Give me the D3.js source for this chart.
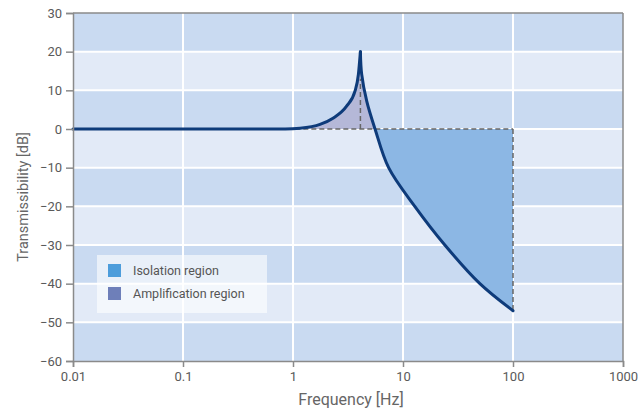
<!DOCTYPE html>
<html>
<head>
<meta charset="utf-8">
<script src="https://cdn.jsdelivr.net/npm/d3@7"></script>
<style>
  body { margin: 0; background: #fff; }
  svg text { font-family: Roboto, "Open Sans", sans-serif; }
</style>
</head>
<body>
<div id="chart"></div>
<script>
// Data
const freqs = [0.01, 0.1, 0.5, 0.85, 1.16, 1.76, 2.31, 3.07, 3.66, 3.93, 4.1, 4.21, 4.68, 5.57, 7.4, 12.8, 24, 50, 100];
const transDb = [0, 0, 0, 0, 0.2, 1.2, 2.8, 5.9, 9.8, 14.1, 20, 14.2, 7.2, 0, -10, -20, -30, -40, -47];
const xTicks = [0.01, 0.1, 1, 10, 100, 1000];
const yTicks = [30, 20, 10, 0, -10, -20, -30, -40, -50, -60];
const resonance = [4.1, 13];
const legendItems = ['Isolation region', 'Amplification region'];

const width = 638, height = 410;
const margin = {top: 13, right: 15, bottom: 49, left: 73};
const innerW = width - margin.left - margin.right;
const innerH = height - margin.top - margin.bottom;

const svg = d3.select('#chart').append('svg')
    .attr('width', width)
    .attr('height', height);
const g = svg.append('g')
    .attr('transform', `translate(${margin.left},${margin.top})`);

const x = d3.scaleLog().domain([0.01, 1000]).range([0, innerW]);
const y = d3.scaleLinear().domain([-60, 30]).range([innerH, 0]);

const points = freqs.map((f, i) => ({f: f, v: transDb[i]}));
const peakF = resonance[0];
const rising = points.filter(d => d.f <= peakF);
const falling = points.filter(d => d.f >= peakF);

// Banded background
const bands = d3.range(-60, 30, 10);
g.selectAll('rect.band')
  .data(bands)
  .enter().append('rect')
    .attr('x', 0)
    .attr('y', d => y(d + 10))
    .attr('width', innerW)
    .attr('height', d => y(d) - y(d + 10))
    .attr('fill', d => (((d + 60) / 10) % 2 === 0) ? '#c9daf1' : '#e2eaf7');

// White grid lines
g.selectAll('line.hgrid')
  .data(yTicks.slice(1, -1))
  .enter().append('line')
    .attr('x1', 0).attr('x2', innerW)
    .attr('y1', d => y(d)).attr('y2', d => y(d))
    .attr('stroke', '#fff').attr('stroke-width', 2);
g.selectAll('line.vgrid')
  .data(xTicks.slice(1, -1))
  .enter().append('line')
    .attr('x1', d => x(d)).attr('x2', d => x(d))
    .attr('y1', 0).attr('y2', innerH)
    .attr('stroke', '#fff').attr('stroke-width', 2);

// Filled regions
const riseArea = d3.area()
    .x(d => x(d.f)).y0(y(0)).y1(d => y(d.v))
    .curve(d3.curveMonotoneX);
const fallArea = d3.area()
    .x(d => x(d.f)).y0(y(0)).y1(d => y(d.v))
    .curve(d3.curveCatmullRom.alpha(0.5));
const ampColor = '#b5b8d8';
g.append('path').attr('d', riseArea(rising.filter(d => d.f >= 0.85))).attr('fill', ampColor);
// falling part is split at the zero crossing by clipping
g.append('clipPath').attr('id', 'above0')
  .append('rect').attr('x', 0).attr('y', 0).attr('width', innerW).attr('height', y(0));
g.append('clipPath').attr('id', 'below0')
  .append('rect').attr('x', 0).attr('y', y(0)).attr('width', innerW).attr('height', innerH - y(0));
g.append('path').attr('d', fallArea(falling)).attr('fill', ampColor).attr('clip-path', 'url(#above0)');
g.append('path').attr('d', fallArea(falling)).attr('fill', '#8cb7e4').attr('clip-path', 'url(#below0)');

// Dashed reference lines
const dash = '5,3';
g.append('line')
    .attr('x1', x(1.05)).attr('x2', x(100))
    .attr('y1', y(0)).attr('y2', y(0))
    .attr('stroke', '#666').attr('stroke-width', 1.5).attr('stroke-dasharray', dash);
g.append('line')
    .attr('x1', x(resonance[0])).attr('x2', x(resonance[0]))
    .attr('y1', y(0)).attr('y2', y(resonance[1]))
    .attr('stroke', '#666').attr('stroke-width', 1.5).attr('stroke-dasharray', dash);
g.append('line')
    .attr('x1', x(100)).attr('x2', x(100))
    .attr('y1', y(0)).attr('y2', y(transDb[transDb.length - 1]))
    .attr('stroke', '#666').attr('stroke-width', 1.5).attr('stroke-dasharray', dash);

// Curve
const riseLine = d3.line()
    .x(d => x(d.f)).y(d => y(d.v))
    .curve(d3.curveMonotoneX);
const fallLine = d3.line()
    .x(d => x(d.f)).y(d => y(d.v))
    .curve(d3.curveCatmullRom.alpha(0.5));
[riseLine(rising), fallLine(falling)].forEach(p => {
  g.append('path')
      .attr('d', p)
      .attr('fill', 'none')
      .attr('stroke', '#0e3b7a')
      .attr('stroke-width', 3)
      .attr('stroke-linecap', 'round')
      .attr('stroke-linejoin', 'round');
});

// Frame (top and right)
g.append('line').attr('x1', 0).attr('x2', innerW).attr('y1', 0).attr('y2', 0)
    .attr('stroke', '#8a8a8a').attr('stroke-width', 1.5);
g.append('line').attr('x1', innerW).attr('x2', innerW).attr('y1', 0).attr('y2', innerH)
    .attr('stroke', '#8a8a8a').attr('stroke-width', 1.5);

// Axes
const yAxis = g.append('g')
    .call(d3.axisLeft(y).tickValues(yTicks).tickSize(7).tickPadding(4).tickFormat(d3.format('d')));
const xAxis = g.append('g')
    .attr('transform', `translate(0,${innerH})`)
    .call(d3.axisBottom(x).tickValues(xTicks).tickSize(6).tickPadding(5).tickFormat(d => String(d)));
[yAxis, xAxis].forEach(a => {
  a.select('.domain').attr('stroke', '#8a8a8a').attr('stroke-width', 1.5);
  a.selectAll('.tick line').attr('stroke', '#8a8a8a').attr('stroke-width', 1.5);
  a.selectAll('.tick text').attr('fill', '#5a5a5a').style('font-size', '13px');
});

// Axis titles
svg.append('text')
    .attr('x', 351)
    .attr('y', 405)
    .attr('text-anchor', 'middle')
    .attr('fill', '#666')
    .style('font-size', '16px')
    .text('Frequency [Hz]');
svg.append('text')
    .attr('transform', 'translate(28,197) rotate(-90)')
    .attr('text-anchor', 'middle')
    .attr('fill', '#666')
    .style('font-size', '14.5px')
    .text('Transmissibility [dB]');

// Legend
const legend = g.append('g').attr('transform', `translate(${97 - margin.left},${255 - margin.top})`);
legend.append('rect')
    .attr('width', 170).attr('height', 58)
    .attr('fill', '#fff').attr('fill-opacity', 0.6);
const swatch = ['#4d9ddb', '#6e7fb9'];
legendItems.forEach((name, i) => {
  legend.append('rect')
      .attr('x', 11).attr('y', 9 + i * 23)
      .attr('width', 13).attr('height', 13)
      .attr('fill', swatch[i]);
  legend.append('text')
      .attr('x', 36).attr('y', 20 + i * 23)
      .attr('fill', '#555')
      .style('font-size', '12.5px')
      .text(name);
});
</script>
</body>
</html>
